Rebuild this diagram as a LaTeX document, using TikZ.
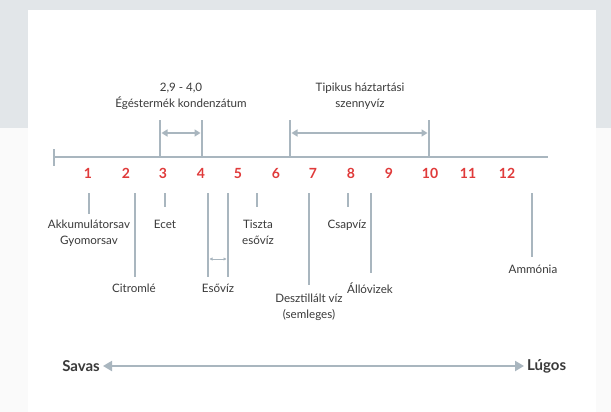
\documentclass[tikz,border=0pt]{standalone}
\usepackage{fontspec}
\setmainfont{Lato}
\usepackage{tikz}
\usetikzlibrary{arrows.meta}

\definecolor{axisgray}{HTML}{A9B6BF}
\definecolor{bandgray}{HTML}{E2E6E9}
\definecolor{phred}{HTML}{E03A3A}
\definecolor{textgray}{HTML}{3A3A3A}

\tikzset{
  scaleline/.style={draw=axisgray, line width=2pt},
  phnum/.style={text=phred, font=\bfseries\fontsize{14}{16}\selectfont, inner sep=0pt},
  lbl/.style={text=textgray, font=\fontsize{11.6}{16}\selectfont, align=center, inner sep=0pt},
  endlbl/.style={text=textgray, font=\bfseries\fontsize{15}{17}\selectfont, inner sep=0pt},
}

\begin{document}
\begin{tikzpicture}[x=1pt, y=-1pt, >={Triangle[length=6pt,width=7pt]}]
        \useasboundingbox (0,0) rectangle (611,412);
        % background and card
        \fill[bandgray] (0,0) rectangle (611,128);
        \fill[black!2] (0,128) rectangle (611,412);
        \fill[white] (28,10) rectangle (596,412);

        % pH axis
        \coordinate (axl) at (54,157);
        \coordinate (axr) at (548,157);
        \coordinate (tickt) at (54,149);
        \coordinate (tickb) at (54,166);
        \draw[scaleline] (axl) -- (axr);
        \draw[scaleline] (tickt) -- (tickb);
        \foreach \n/\x in {1/88,2/126,3/163,4/201,5/238,6/276,7/313,8/351,9/389,10/430,11/468,12/507}
            \node[phnum] (ph\n) at (\x,173){\n};

        % ranges above the axis
        \foreach \k/\x in {a/160,b/202,c/290,d/429}{
            \coordinate (up\k) at (\x,120);
            \coordinate (ax\k) at (\x,157);
            \coordinate (ar\k) at (\x,133);
            \draw[scaleline] (up\k) -- (ax\k);
        }
        \draw[<->, scaleline, shorten <=1.5pt, shorten >=1.5pt](ara)--(arb);
        \draw[<->, scaleline, shorten <=1.5pt, shorten >=1.5pt](arc)--(ard);
        \node[lbl] (kond) at (181,96){2,9 - 4,0\\Égéstermék kondenzátum};
        \node[lbl] (szenny) at (360,96){Tipikus háztartási\\szennyvíz};

        % markers below the axis
        \foreach \k/\x/\y in {akku/89/214,citrom/135/277,ecet/165/207,esoa/208/277,esob/228/277,tiszta/257/207,deszt/309/285,csap/348/207,allo/371/273,ammon/532/257}{
            \coordinate (top\k) at (\x,193);
            \coordinate (bot\k) at (\x,\y);
            \draw[scaleline] (top\k) -- (bot\k);
        }
        \coordinate (esol) at (208,259);
        \coordinate (esor) at (228,259);
        \draw[<->, draw=axisgray, line width=0.8pt, >={Triangle[length=3pt,width=3pt]}, shorten <=1.5pt, shorten >=1.5pt](esol)--(esor);

        \node[lbl, anchor=north] (akkulbl) at (89,220){Akkumulátorsav\\Gyomorsav};
        \node[lbl, anchor=north] (citromlbl) at (134,284){Citromlé};
        \node[lbl, anchor=north] (ecetlbl) at (165,220){Ecet};
        \node[lbl, anchor=north] (esolbl) at (218,284){Esővíz};
        \node[lbl, anchor=north] (tisztalbl) at (258,220){Tiszta\\esővíz};
        \node[lbl, anchor=north] (desztlbl) at (309,294){Desztillált víz\\(semleges)};
        \node[lbl, anchor=north] (csaplbl) at (347,220){Csapvíz};
        \node[lbl, anchor=north] (allolbl) at (370,283){Állóvizek};
        \node[lbl, anchor=north] (ammonlbl) at (533,265){Ammónia};

        % acid / base arrow
        \node[endlbl, anchor=east] (savas) at (100,366){Savas};
        \node[endlbl, anchor=west] (lugos) at (527,366){Lúgos};
        \draw[<->, scaleline, >={Triangle[length=9pt,width=10pt]}, shorten <=3pt, shorten >=3pt](savas.east)--(lugos.west);
    \end{tikzpicture}
\end{document}
